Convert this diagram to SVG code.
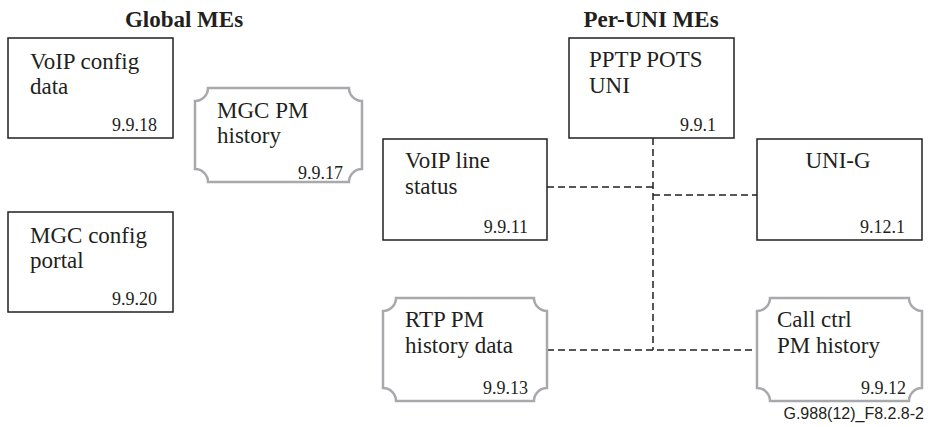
<svg xmlns="http://www.w3.org/2000/svg" width="928" height="427" viewBox="0 0 928 427">
<style>
.box{fill:#fff;stroke:#231f20;stroke-width:1.5}
.pm{fill:#fff;stroke:#a7a9ac;stroke-width:2.5}
.lbl{font-family:"Liberation Serif",serif;font-size:23px;fill:#231f20}
.num{font-family:"Liberation Serif",serif;font-size:18px;fill:#231f20;text-anchor:end}
.ttl{font-family:"Liberation Serif",serif;font-size:23px;font-weight:bold;fill:#231f20;text-anchor:middle}
.cap{font-family:"Liberation Sans",sans-serif;font-size:16px;fill:#231f20;text-anchor:end}
.dash{fill:none;stroke:#231f20;stroke-width:1.5;stroke-dasharray:7 4}
</style>
<rect width="928" height="427" fill="#fff"/>
<text class="ttl" x="184" y="27">Global MEs</text>
<text class="ttl" x="651" y="27">Per-UNI MEs</text>
<g id="connectors">
<path class="dash" d="M653 138V350"/>
<path class="dash" d="M547 187H653"/>
<path class="dash" d="M653 195H757"/>
<path class="dash" d="M547 350H757"/>
</g>
<g id="voip-config-data">
<rect class="box" x="8" y="38" width="165" height="100"/>
<text class="lbl" x="30" y="69">VoIP config</text>
<text class="lbl" x="30" y="94">data</text>
<text class="num" x="157" y="131">9.9.18</text>
</g>
<g id="mgc-pm-history">
<path class="pm" d="M208 88H349A13 13 0 0 0 362 101V169A13 13 0 0 0 349 182H208A13 13 0 0 0 195 169V101A13 13 0 0 0 208 88Z"/>
<text class="lbl" x="217" y="118">MGC PM</text>
<text class="lbl" x="217" y="143">history</text>
<text class="num" x="343" y="179">9.9.17</text>
</g>
<g id="mgc-config-portal">
<rect class="box" x="8" y="212" width="165" height="100"/>
<text class="lbl" x="30" y="243">MGC config</text>
<text class="lbl" x="30" y="268">portal</text>
<text class="num" x="157" y="305">9.9.20</text>
</g>
<g id="pptp-pots-uni">
<rect class="box" x="569" y="38" width="165" height="100"/>
<text class="lbl" x="589" y="67">PPTP POTS</text>
<text class="lbl" x="589" y="93">UNI</text>
<text class="num" x="716" y="131">9.9.1</text>
</g>
<g id="voip-line-status">
<rect class="box" x="383" y="139" width="164" height="101"/>
<text class="lbl" x="405" y="168">VoIP line</text>
<text class="lbl" x="405" y="194">status</text>
<text class="num" x="528" y="233">9.9.11</text>
</g>
<g id="uni-g">
<rect class="box" x="757" y="139" width="165" height="101"/>
<text class="lbl" x="838" y="168" text-anchor="middle">UNI-G</text>
<text class="num" x="905" y="233">9.12.1</text>
</g>
<g id="rtp-pm-history-data">
<path class="pm" d="M396 298H534A13 13 0 0 0 547 311V388A13 13 0 0 0 534 401H396A13 13 0 0 0 383 388V311A13 13 0 0 0 396 298Z"/>
<text class="lbl" x="405" y="327">RTP PM</text>
<text class="lbl" x="405" y="353">history data</text>
<text class="num" x="528" y="394">9.9.13</text>
</g>
<g id="call-ctrl-pm-history">
<path class="pm" d="M770 298H909A13 13 0 0 0 922 311V388A13 13 0 0 0 909 401H770A13 13 0 0 0 757 388V311A13 13 0 0 0 770 298Z"/>
<text class="lbl" x="777" y="327">Call ctrl</text>
<text class="lbl" x="777" y="353">PM history</text>
<text class="num" x="906" y="394">9.9.12</text>
</g>
<text class="cap" x="924" y="419">G.988(12)_F8.2.8-2</text>
</svg>
